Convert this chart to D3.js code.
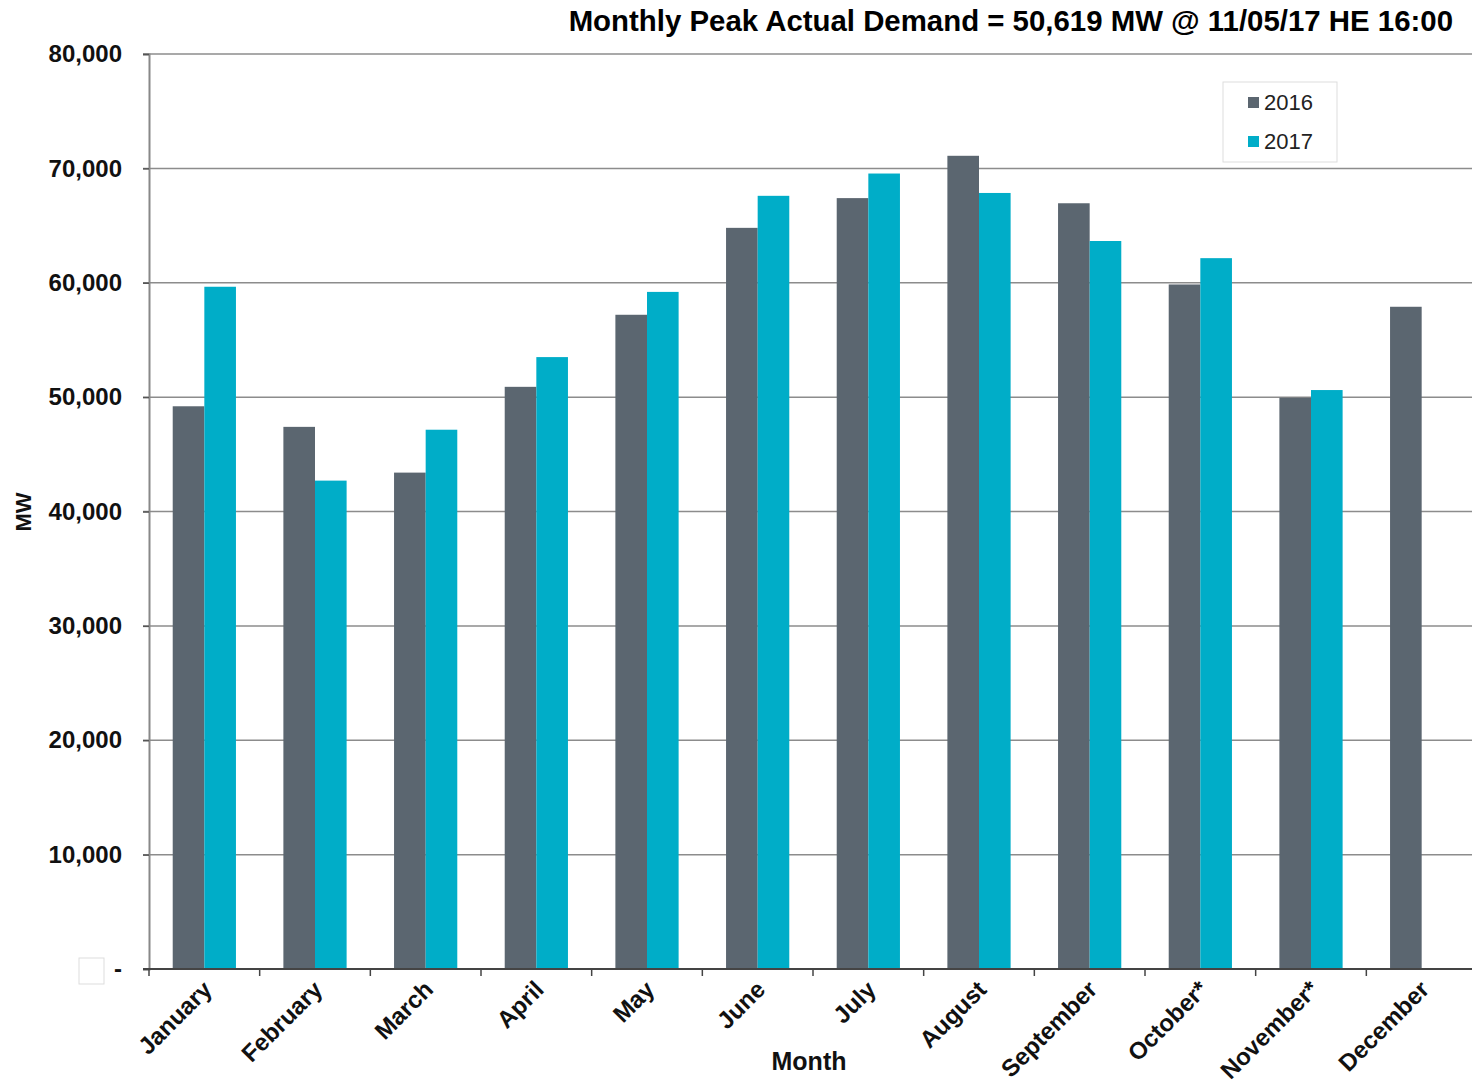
<!DOCTYPE html>
<html>
<head>
<meta charset="utf-8">
<script src="https://cdn.jsdelivr.net/npm/d3@7"></script>
<style>
  body { margin: 0; background: #fff; }
  text { font-family: "Liberation Sans", Arial, sans-serif; }
</style>
</head>
<body>
<svg id="chart" width="1472" height="1087"></svg>
<script>
var months = ["January", "February", "March", "April", "May", "June", "July",
  "August", "September", "October*", "November*", "December"]
var years = ["2016", "2017"]
var peak2016 = [49200, 47400, 43400, 50900, 57200, 64800, 67400, 71100, 66950, 59850, 49950, 57900]
var peak2017 = [59650, 42700, 47150, 53500, 59200, 67600, 69550, 67850, 63650, 62150, 50619, null]
var yTicks = [0, 10000, 20000, 30000, 40000, 50000, 60000, 70000, 80000]
var colors = { "2016": "#5b6670", "2017": "#00adc8" }

var svg = d3.select("#chart")
var plotLeft = 149, plotRight = 1477, plotTop = 54, plotBottom = 969

var x = d3.scaleBand().domain(months).range([plotLeft, plotRight])
var xSub = d3.scaleBand().domain(years).range([0, x.bandwidth()]).paddingOuter(0.75)
var y = d3.scaleLinear().domain([0, 80000]).range([plotBottom, plotTop])

// gridlines
svg.append("g")
  .selectAll("line")
  .data(yTicks.filter(function(d) { return d > 0 }))
  .enter()
  .append("line")
  .attr("x1", plotLeft - 6)
  .attr("x2", 1472)
  .attr("y1", function(d) { return y(d) })
  .attr("y2", function(d) { return y(d) })
  .attr("stroke", "#8c8c8c")
  .attr("stroke-width", 1.5)

// y axis
var yAxis = svg.append("g")
  .attr("transform", "translate(" + plotLeft + ",0)")
  .call(d3.axisLeft(y).tickValues(yTicks).tickSize(6).tickPadding(21)
    .tickFormat(function(d) { return d === 0 ? "-" : d3.format(",")(d) }))
yAxis.select(".domain").attr("stroke", "#888").attr("stroke-width", 2)
yAxis.selectAll(".tick line").attr("stroke", "#555").attr("stroke-width", 1.5)
yAxis.selectAll(".tick text")
  .attr("font-size", 24)
  .attr("font-weight", "bold")
  .attr("fill", "#111")
  .attr("font-family", "Liberation Sans, Arial, sans-serif")

// bars
var rows = months.map(function(m, i) {
  return { month: m, values: [
    { year: "2016", value: peak2016[i] },
    { year: "2017", value: peak2017[i] }
  ] }
})

var groups = svg.append("g")
  .selectAll("g")
  .data(rows)
  .enter()
  .append("g")
  .attr("transform", function(d) { return "translate(" + x(d.month) + ",0)" })

groups.selectAll("rect")
  .data(function(d) { return d.values.filter(function(v) { return v.value != null }) })
  .enter()
  .append("rect")
  .attr("x", function(d) { return xSub(d.year) })
  .attr("width", xSub.bandwidth())
  .attr("y", function(d) { return y(d.value) })
  .attr("height", function(d) { return plotBottom - y(d.value) })
  .attr("fill", function(d) { return colors[d.year] })

// x axis
svg.append("line")
  .attr("x1", plotLeft - 6).attr("x2", 1472)
  .attr("y1", plotBottom).attr("y2", plotBottom)
  .attr("stroke", "#444").attr("stroke-width", 2)

svg.append("g")
  .selectAll("line")
  .data(months)
  .enter()
  .append("line")
  .attr("x1", function(d) { return x(d) })
  .attr("x2", function(d) { return x(d) })
  .attr("y1", plotBottom)
  .attr("y2", plotBottom + 7)
  .attr("stroke", "#444")
  .attr("stroke-width", 1.5)

var xAxis = svg.append("g")
  .attr("transform", "translate(0," + plotBottom + ")")
  .call(d3.axisBottom(x).tickSize(0).tickPadding(0))
xAxis.select(".domain").remove()
xAxis.selectAll(".tick text")
  .attr("font-size", 24)
  .attr("font-weight", "bold")
  .attr("fill", "#111")
  .attr("font-family", "Liberation Sans, Arial, sans-serif")
  .attr("text-anchor", "end")
  .attr("dy", null)
  .attr("transform", "translate(9,22) rotate(-45)")

// axis titles
svg.append("text")
  .attr("x", 809).attr("y", 1070)
  .attr("text-anchor", "middle")
  .attr("font-size", 25).attr("font-weight", "bold").attr("fill", "#111")
  .text("Month")

svg.append("text")
  .attr("transform", "translate(31,512) rotate(-90)")
  .attr("text-anchor", "middle")
  .attr("font-size", 22).attr("font-weight", "bold").attr("fill", "#111")
  .text("MW")

svg.append("text")
  .attr("x", 1453).attr("y", 31)
  .attr("text-anchor", "end")
  .attr("font-size", 29.4).attr("font-weight", "bold").attr("fill", "#000")
  .text("Monthly Peak Actual Demand = 50,619 MW @ 11/05/17 HE 16:00")

// stray empty box near the zero label
svg.append("rect")
  .attr("x", 79).attr("y", 958).attr("width", 25).attr("height", 26)
  .attr("fill", "#fff").attr("stroke", "#ddd")

// legend
var legend = svg.append("g").attr("transform", "translate(1223,82)")
legend.append("rect")
  .attr("width", 114).attr("height", 80)
  .attr("fill", "#fff").attr("stroke", "#ddd")
var item = legend.selectAll(".item")
  .data(years)
  .enter()
  .append("g")
  .attr("class", "item")
  .attr("transform", function(d, i) { return "translate(25," + (20 + i * 39) + ")" })
item.append("rect")
  .attr("y", -5).attr("width", 11).attr("height", 11)
  .attr("fill", function(d) { return colors[d] })
item.append("text")
  .attr("x", 16).attr("y", 8)
  .attr("font-size", 22).attr("fill", "#222")
  .text(function(d) { return d })
</script>
</body>
</html>
